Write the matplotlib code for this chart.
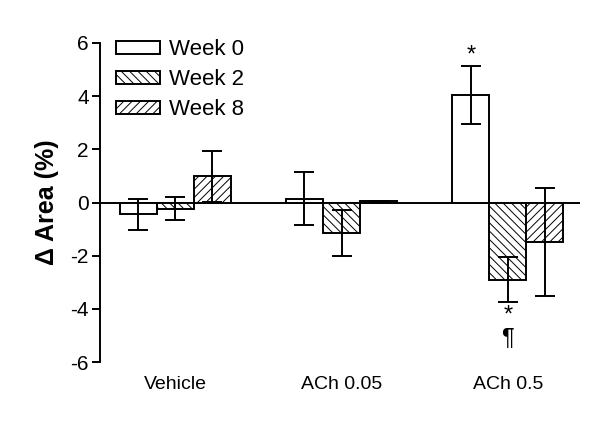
import matplotlib.pyplot as plt
import numpy as np

plt.rcParams['font.family'] = ['Liberation Sans', 'DejaVu Sans']
plt.rcParams['hatch.linewidth'] = 0.7
plt.rcParams['axes.unicode_minus'] = False

# Data
groups = ['Vehicle', 'ACh 0.05', 'ACh 0.5']
series = ['Week 0', 'Week 2', 'Week 8']
means = {
    'Week 0': [-0.45, 0.15, 4.05],
    'Week 2': [-0.23, -1.16, -2.90],
    'Week 8': [0.98, 0.05, -1.50],
}
errs = {
    'Week 0': [0.60, 1.00, 1.10],
    'Week 2': [0.44, 0.87, 0.84],
    'Week 8': [0.97, 0.02, 2.03],
}
hatches = {'Week 0': '', 'Week 2': '\\\\\\\\', 'Week 8': '////'}

fig = plt.figure(figsize=(6, 4.21), dpi=100)
ax = fig.add_axes([0.1667, 0.14, 0.80, 0.758])

x = np.arange(len(groups))
w = 0.223
for i, s in enumerate(series):
    pos = x + (i - 1) * w
    ax.bar(pos, means[s], width=w, color='white', edgecolor='black',
           linewidth=1.4, hatch=hatches[s], label=s, zorder=2)
    ax.errorbar(pos, means[s], yerr=errs[s], fmt='none', ecolor='black',
                elinewidth=1.4, capsize=7.5, capthick=1.4, zorder=3)

# significance markers
ax.text(x[2] - w, 4.05 + 1.1 - 0.05, '*', ha='center', va='bottom', fontsize=17)
ax.text(x[2], -2.90 - 0.84 - 0.08, '*', ha='center', va='top', fontsize=17)
ax.text(x[2], -4.72, '¶', ha='center', va='top', fontsize=17)

ax.axhline(0, color='black', linewidth=1.4, zorder=1)
ax.set_xlim(-0.452, 2.434)
ax.set_ylim(-6, 6)
ax.set_yticks(np.arange(-6, 7, 2))
ax.set_xticks(x)
ax.set_xticklabels(groups, fontsize=14)
ax.tick_params(axis='x', length=0, pad=10)
ax.tick_params(axis='y', direction='out', length=6, width=1.4, labelsize=15, pad=2)
for sp in ['top', 'right', 'bottom']:
    ax.spines[sp].set_visible(False)
ax.spines['left'].set_linewidth(1.4)
ax.set_ylabel('Δ Area (%)', fontsize=18, fontweight='bold', labelpad=8)

ax.legend(loc='upper left', bbox_to_anchor=(0.0, 1.06), frameon=False,
          fontsize=16, handlelength=2.0, handleheight=0.55,
          labelspacing=0.4, handletextpad=0.4, borderaxespad=0.3)

fig.savefig('out.png', dpi=100)
